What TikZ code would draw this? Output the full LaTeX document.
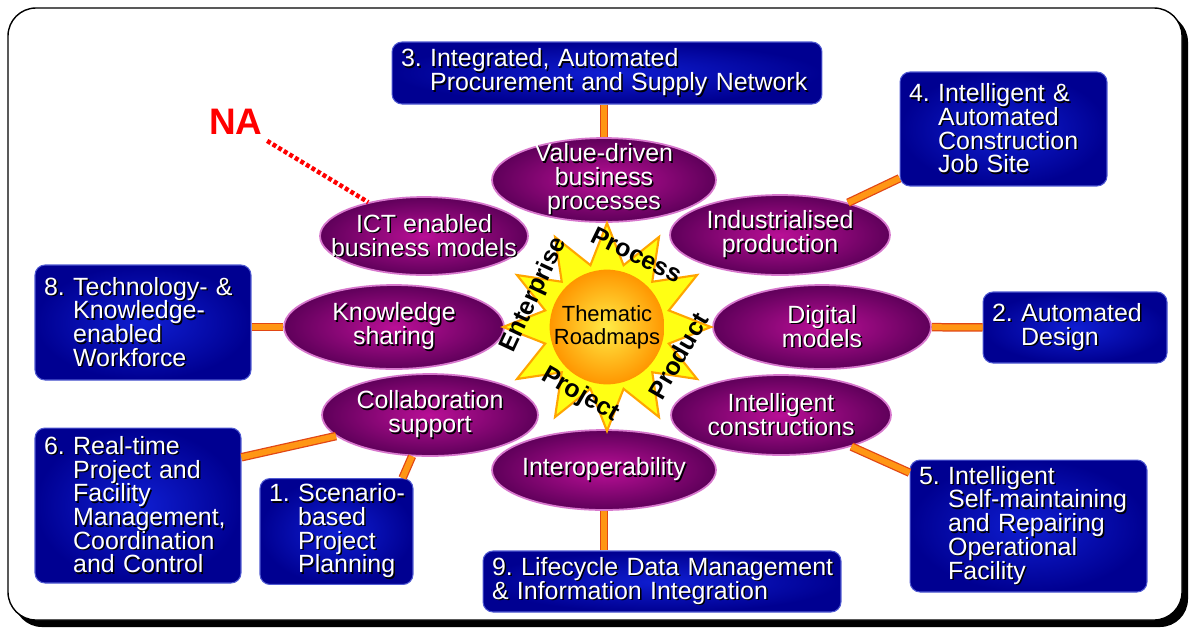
\documentclass[tikz,border=0pt]{standalone}
\usepackage{fontspec}
\setmainfont{Liberation Sans}
\usetikzlibrary{shapes.geometric}
\frenchspacing

\definecolor{goaldark}{RGB}{0,0,145}
\definecolor{goallight}{RGB}{15,30,210}
\definecolor{goaledge}{RGB}{80,90,210}
\definecolor{topicdark}{RGB}{95,0,90}
\definecolor{topiclight}{RGB}{185,15,150}
\definecolor{topicedge}{RGB}{215,120,205}
\definecolor{linkcore}{RGB}{255,150,20}
\definecolor{linkedge}{RGB}{225,70,20}
\definecolor{starfill}{RGB}{255,255,20}
\definecolor{staredge}{RGB}{255,165,0}
\definecolor{sunlight}{RGB}{255,235,70}
\definecolor{sundark}{RGB}{255,150,0}

\newcommand{\boxfont}{\fontsize{14.2pt}{13.5pt}\selectfont\lineskiplimit=-3pt\relax}
\newcommand{\sunfont}{\fontsize{12.5pt}{13.1pt}\selectfont}
\newcommand{\nafont}{\fontsize{21pt}{24pt}\selectfont}
\newcommand{\sh}[1]{\leavevmode\rlap{\hspace{0.03cm}\raisebox{-0.03cm}{\color{black}#1}}\mbox{#1}}
\newcommand{\ind}{\leavevmode\phantom{0.\ }}

\tikzset{
	goal/.style 2 args={rectangle, rounded corners=0.2cm, draw=goaledge, line width=0.6pt, shading=radial, inner color=goallight, outer color=goaldark, text=white, font=\boxfont, align=left, inner xsep=0.18cm, inner ysep=0.1cm, text width=#1, minimum height=#2},
	topic/.style={ellipse, draw=topicedge, line width=1pt, shading=radial, inner color=topiclight, outer color=topicdark, minimum width=4.4cm, minimum height=1.64cm, inner sep=0pt},
	topictext/.style={text=white, font=\boxfont, align=center},
	link/.style={draw=linkedge, double=linkcore, double distance=0.12cm, line width=0.025cm},
	sunstar/.style={fill=starfill, draw=staredge, line width=1.2pt, line join=miter},
	word/.style={font=\boxfont\bfseries}
}

\begin{document}
\begin{tikzpicture}[x=0.02cm, y=-0.02cm]

	\useasboundingbox (0,0) rectangle (1189,630);
	\fill[black, rounded corners=0.56cm] (14,14) rectangle (1188,627);
	\draw[fill=white, line width=0.8pt, rounded corners=0.56cm] (8,8) rectangle (1182,620);

	\node[goal={8.24cm}{1.24cm}] (goal3) at (607,73) {\sh{3. Integrated, Automated}\\\ind\sh{Procurement and Supply Network}};
	\node[goal={3.78cm}{2.28cm}] (goal4) at (1003.5,129) {\sh{4. Intelligent \&}\\\ind\sh{Automated}\\\ind\sh{Construction}\\\ind\sh{Job Site}};
	\node[goal={3.32cm}{1.42cm}] (goal2) at (1075,327.5) {\sh{2. Automated}\\\ind\sh{Design}};
	\node[goal={4.38cm}{2.64cm}] (goal5) at (1028.5,526) {\sh{5. Intelligent}\\\ind\sh{Self-maintaining}\\\ind\sh{and Repairing}\\\ind\sh{Operational}\\\ind\sh{Facility}};
	\node[goal={6.8cm}{1.22cm}] (goal9) at (662,581.5) {\sh{9. Lifecycle Data Management}\\\sh{\& Information Integration}};
	\node[goal={2.7cm}{2.02cm}] (goal1) at (336.5,531.5) {\sh{1. Scenario-}\\\ind\sh{based}\\\ind\sh{Project}\\\ind\sh{Planning}};
	\node[goal={3.76cm}{3.1cm}] (goal6) at (138,505.5) {\sh{6. Real-time}\\\ind\sh{Project and}\\\ind\sh{Facility}\\\ind\sh{Management,}\\\ind\sh{Coordination}\\\ind\sh{and Control}};
	\node[goal={3.96cm}{2.3cm}] (goal8) at (143,322.5) {\sh{8. Technology- \&}\\\ind\sh{Knowledge-}\\\ind\sh{enabled}\\\ind\sh{Workforce}};

	\node[topic, minimum width=4.48cm, minimum height=1.68cm, label={[topictext]center:{\sh{Value-driven}\\\sh{business}\\\sh{processes}}}] (vdb) at (604,180) {};
	\node[topic, minimum width=4.16cm, minimum height=1.56cm, label={[topictext]center:{\sh{ICT enabled}\\\sh{business models}}}] (ict) at (424,236) {};
	\node[topic, minimum height=1.6cm, label={[topictext]center:{\sh{Industrialised}\\\sh{production}}}] (ind) at (780,235) {};
	\node[topic, minimum height=1.68cm, label={[topictext]center:{\sh{Knowledge}\\\sh{sharing}}}] (ks) at (394,327) {};
	\node[topic, minimum width=4.36cm, minimum height=1.68cm, label={[topictext]center:{\sh{Digital}\\\sh{models}}}] (dm) at (822,327) {};
	\node[topic, minimum width=4.32cm, label={[topictext]center:{\sh{Collaboration}\\\sh{support}}}] (col) at (430,415) {};
	\node[topic, minimum height=1.6cm, label={[topictext]center:{\sh{Intelligent}\\\sh{constructions}}}] (ic) at (781,415) {};
	\node[topic, minimum width=4.48cm, minimum height=1.6cm, label={[topictext]center:{\sh{Interoperability}}}] (iop) at (604,470) {};

	\draw[link] (vdb) -- (vdb |- goal3.south);
	\draw[link] (goal4) -- (ind);
	\draw[link] (goal2) -- (dm);
	\draw[link] (goal5) -- (ic);
	\draw[link] (iop) -- (iop |- goal9.north);
	\draw[link] (goal1.39) -- (col);
	\draw[link] (goal6.25) -- (col);
	\draw[link] (ks) -- (ks -| goal8.east);

	\draw[sunstar, shift={(607,327)}] (0:104) \foreach \a in {0,30,...,330}{ -- ({\a+15}:64) -- ({\a+30}:104)} -- cycle;
	\node[circle, minimum size=2.28cm, inner sep=0pt, shading=radial, inner color=sunlight, outer color=sundark, font=\sunfont, align=center] (sun) at (607,327) {Thematic\\Roadmaps};

	\node[word, rotate=-26] (process) at (637,255) {Process};
	\node[word, rotate=60] (product) at (678,356) {Product};
	\node[word, rotate=-30] (project) at (580,395) {Project};
	\node[word, rotate=65] (enterprise) at (534,295) {Enterprise};

	\node[text=red, font=\nafont\bfseries] (na) at (236,122) {NA};
	\draw[red, line width=0.09cm, dash pattern=on 0.08cm off 0.05cm] (na) -- (ict);

\end{tikzpicture}
\end{document}
